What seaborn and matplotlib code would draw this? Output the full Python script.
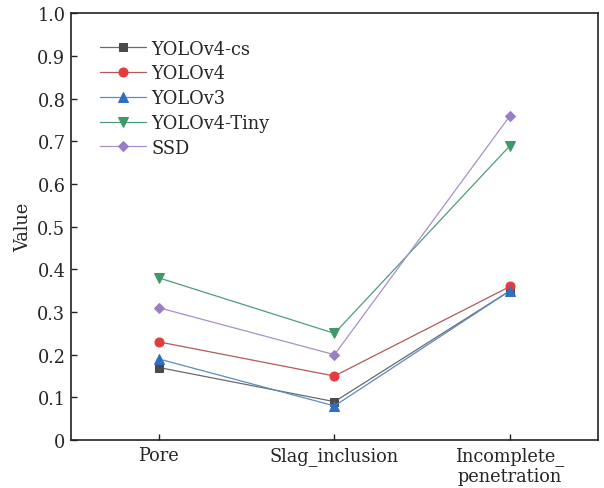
import matplotlib
matplotlib.use("Agg")
import matplotlib.pyplot as plt
import seaborn as sns
import pandas as pd

categories = ["Pore", "Slag_inclusion", "Incomplete_\npenetration"]
models = ["YOLOv4-cs", "YOLOv4", "YOLOv3", "YOLOv4-Tiny", "SSD"]
yolov4_cs = [0.17, 0.09, 0.35]
yolov4 = [0.23, 0.15, 0.36]
yolov3 = [0.19, 0.08, 0.35]
yolov4_tiny = [0.38, 0.25, 0.69]
ssd = [0.31, 0.20, 0.76]
yticks = [0, 0.1, 0.2, 0.3, 0.4, 0.5, 0.6, 0.7, 0.8, 0.9, 1.0]
ytick_labels = ["0", "0.1", "0.2", "0.3", "0.4", "0.5", "0.6", "0.7", "0.8", "0.9", "1.0"]

series = [yolov4_cs, yolov4, yolov3, yolov4_tiny, ssd]
rows = []
for m, vals in zip(models, series):
    for i, v in enumerate(vals):
        rows.append({"x": i, "Value": v, "Model": m})
df = pd.DataFrame(rows)

sns.set_theme(style="ticks")
plt.rcParams["font.family"] = ["DejaVu Serif"]
plt.rcParams["mathtext.fontset"] = "dejavuserif"

marker_colors = {"YOLOv4-cs": "#4a4a4a", "YOLOv4": "#e33b3f", "YOLOv3": "#2f6fbf",
                 "YOLOv4-Tiny": "#3d9a68", "SSD": "#9a7dc4"}
line_colors = {"YOLOv4-cs": "#6a6a6a", "YOLOv4": "#b05a5a", "YOLOv3": "#5a8cc0",
               "YOLOv4-Tiny": "#4f9c7c", "SSD": "#a890c8"}
markers = {"YOLOv4-cs": "s", "YOLOv4": "o", "YOLOv3": "^", "YOLOv4-Tiny": "v", "SSD": "D"}
msizes = {"YOLOv4-cs": 5.5, "YOLOv4": 6.5, "YOLOv3": 7, "YOLOv4-Tiny": 7, "SSD": 5.5}

fig = plt.figure(figsize=(6.04, 4.89), dpi=100)
ax = fig.add_axes([0.1175, 0.098, 0.8725, 0.873])

for m in models:
    sub = df[df["Model"] == m]
    sns.lineplot(data=sub, x="x", y="Value", ax=ax, color=line_colors[m], linewidth=0.9,
                 marker=markers[m], markersize=msizes[m], markerfacecolor=marker_colors[m],
                 markeredgecolor=marker_colors[m], label=m)

fs = 12.8
ax.set_xlim(-0.5, 2.5)
ax.set_ylim(0, 1.0)
ax.set_xticks(range(len(categories)))
ax.set_xticklabels(categories, fontsize=fs, linespacing=1.15)
ax.set_yticks(yticks)
ax.set_yticklabels(ytick_labels, fontsize=fs)
ax.set_xlabel("")
ax.set_ylabel("Value", fontsize=fs, labelpad=4)
ax.tick_params(direction="in", length=4, width=1, color="#222222", pad=4)
for s in ax.spines.values():
    s.set_visible(True)
    s.set_linewidth(1.2)
    s.set_color("#222222")

leg = ax.legend(loc="upper left", bbox_to_anchor=(0.055, 0.938), frameon=False,
                fontsize=fs, handlelength=2.6, handletextpad=0.3, labelspacing=0.38,
                borderpad=0, borderaxespad=0)

fig.savefig("out.png", dpi=100)
